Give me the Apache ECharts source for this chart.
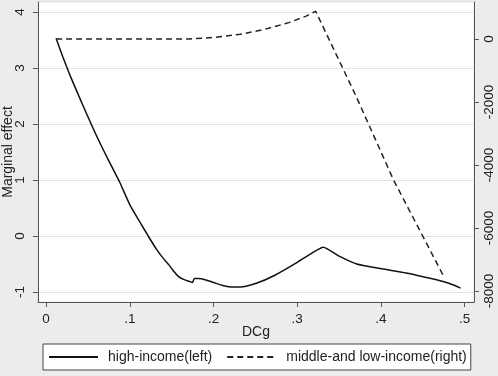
<!DOCTYPE html>
<html>
<head>
<meta charset="utf-8">
<script src="https://cdn.jsdelivr.net/npm/echarts@6/dist/echarts.min.js"></script>
<style>
  html, body { margin: 0; padding: 0; background: #ececec; }
  #chart { width: 498px; height: 376px; }
</style>
</head>
<body>
<div id="chart"></div>
<script>
// high-income, left axis
const highX = [0.012, 0.02, 0.03, 0.045, 0.06, 0.075, 0.088, 0.1, 0.112, 0.122, 0.132, 0.14, 0.147, 0.152,
  0.158, 0.165, 0.171, 0.175, 0.177, 0.182, 0.19, 0.2, 0.21, 0.22, 0.232, 0.252, 0.272, 0.3, 0.318, 0.331,
  0.35, 0.371, 0.399, 0.43, 0.46, 0.48, 0.495]
const highY = [3.53, 3.2, 2.82, 2.3, 1.8, 1.34, 0.96, 0.56, 0.25, 0.0, -0.24, -0.4, -0.52, -0.62,
  -0.72, -0.78, -0.81, -0.83, -0.76, -0.76, -0.78, -0.83, -0.88, -0.91, -0.91, -0.84, -0.71, -0.47, -0.3, -0.2,
  -0.36, -0.5, -0.58, -0.66, -0.76, -0.84, -0.93]
// middle-and low-income, right axis
const midX = [0.012, 0.1, 0.17, 0.2, 0.232, 0.26, 0.29, 0.31, 0.322, 0.37, 0.415, 0.4755]
const midY = [0, 0, 0, 50, 150, 300, 520, 720, 880, -1800, -4476, -7565]
// tick labels
const xTicks = [0, 0.1, 0.2, 0.3, 0.4, 0.5]
const leftTicks = [-1, 0, 1, 2, 3, 4]
const rightTicks = [-8000, -6000, -4000, -2000, 0]

const zip = (xs, ys) => xs.map((x, i) => [x, ys[i]])

const chart = echarts.init(document.getElementById('chart'))
const axisColor = '#555'
const fontFamily = 'Liberation Sans, Arial, sans-serif'
const tickStyle = { color: '#222', fontSize: 13.5, fontFamily: fontFamily }
const titleStyle = { color: '#222', fontSize: 14, fontFamily: fontFamily }

const option = {
  animation: false,
  backgroundColor: '#ececec',
  grid: {
    left: 38,
    right: 24,
    top: 2,
    bottom: 74,
    outerBoundsMode: 'none',
    containLabel: false,
    show: true,
    backgroundColor: '#fff',
    borderColor: '#e2e2e2',
    borderWidth: 1
  },
  legend: {
    left: 43,
    top: 344,
    padding: [6, 4, 6, 5],
    itemGap: 14,
    itemWidth: 49,
    itemHeight: 12,
    backgroundColor: '#fff',
    borderColor: '#444',
    borderWidth: 1,
    itemStyle: { opacity: 0, borderWidth: 0 },
    textStyle: Object.assign({}, titleStyle, { padding: [0, 0, 0, 5] }),
    data: ['high-income(left)', 'middle-and low-income(right)']
  },
  xAxis: {
    type: 'value',
    min: -0.0096,
    max: 0.5111,
    minInterval: 0.1,
    maxInterval: 0.1,
    name: 'DCg',
    nameLocation: 'middle',
    nameGap: 23,
    nameMoveOverlap: false,
    nameTextStyle: titleStyle,
    axisLine: { onZero: false, lineStyle: { color: axisColor, width: 1 } },
    axisTick: { customValues: xTicks, length: 5, lineStyle: { color: axisColor } },
    axisLabel: {
      customValues: xTicks,
      margin: 10,
      ...tickStyle,
      formatter: v => (v === 0 ? '0' : (Math.round(v * 10) / 10).toFixed(1).replace(/^0/, ''))
    },
    splitLine: { show: false }
  },
  yAxis: [
    {
      type: 'value',
      position: 'left',
      min: -1.179,
      max: 4.179,
      minInterval: 1,
      maxInterval: 1,
      name: 'Marginal effect',
      nameLocation: 'middle',
      nameGap: 23,
      nameMoveOverlap: false,
      nameTextStyle: titleStyle,
      axisLine: { show: true, onZero: false, lineStyle: { color: axisColor, width: 1 } },
      axisTick: { show: true, customValues: leftTicks, length: 5, lineStyle: { color: axisColor } },
      axisLabel: { customValues: leftTicks, rotate: 90, margin: 11, ...tickStyle },
      splitLine: { show: true, lineStyle: { color: '#e4e4e4', width: 1 } }
    },
    {
      type: 'value',
      position: 'right',
      min: -8349,
      max: 1175,
      minInterval: 2000,
      maxInterval: 2000,
      axisLine: { show: true, onZero: false, lineStyle: { color: axisColor, width: 1 } },
      axisTick: { show: true, customValues: rightTicks, length: 5, lineStyle: { color: axisColor } },
      axisLabel: { customValues: rightTicks, rotate: 90, margin: 8, ...tickStyle, formatter: v => String(v) },
      splitLine: { show: false }
    }
  ],
  series: [
    {
      name: 'high-income(left)',
      type: 'line',
      yAxisIndex: 0,
      symbol: 'none',
      smooth: 0.2,
      lineStyle: { color: '#111', width: 1.5 },
      itemStyle: { color: '#111' },
      data: zip(highX, highY)
    },
    {
      name: 'middle-and low-income(right)',
      type: 'line',
      yAxisIndex: 1,
      symbol: 'none',
      lineStyle: { color: '#222', width: 1.5, type: [6, 4] },
      itemStyle: { color: '#222' },
      data: zip(midX, midY)
    }
  ]
}
chart.setOption(option)
</script>
</body>
</html>
